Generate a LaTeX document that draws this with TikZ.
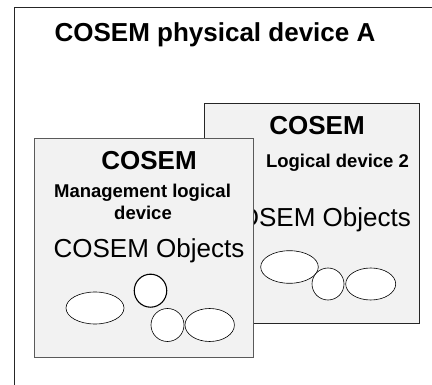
\documentclass[tikz,border=0pt]{standalone}
\usepackage{fontspec}
\setmainfont{Liberation Sans}
\usetikzlibrary{shapes.geometric}
\definecolor{boxfill}{HTML}{F2F2F2}
\definecolor{boxline}{HTML}{5A5A5A}
\tikzset{
  devbox/.style={draw=#1, fill=boxfill, line width=0.9pt},
  obj/.style={draw=black, fill=white, ellipse, inner sep=0pt, line width=0.6pt},
  bigbold/.style={anchor=base, inner sep=0pt, font=\fontsize{26}{28}\selectfont\bfseries},
  midbold/.style={anchor=base, inner sep=0pt, font=\fontsize{18.5}{20}\selectfont\bfseries},
  bigreg/.style={anchor=base, inner sep=0pt, font=\fontsize{26}{28}\selectfont},
}
\begin{document}
\begin{tikzpicture}[x=1pt,y=-1pt]
\useasboundingbox (0,0) rectangle (432,385);
\fill[white] (0,0) rectangle (432,385);
% outer physical device frame
\draw[draw=black!85, line width=0.9pt] (14,7) rectangle (450,400);
\node[bigbold] (title) at (215,42) {COSEM physical device A};
% logical device 2
\draw[devbox=black!85] (204,103) rectangle (419,323);
\node[bigbold] (c2) at (317,135) {COSEM};
\node[midbold] (ld2) at (337.5,168) {Logical device 2};
\node[bigreg, anchor=base east] (o2) at (411,227) {COSEM Objects};
\node[obj, minimum width=57.6pt, minimum height=32.6pt] (e21) at (289.5,267) {};
\node[obj, minimum width=32pt, minimum height=32pt] (e22) at (328,284) {};
\node[obj, minimum width=50pt, minimum height=32pt] (e23) at (370.7,284) {};
% management logical device
\draw[devbox=boxline] (34.7,138.3) rectangle (253,357.3);
\node[bigbold] (c1) at (149,170) {COSEM};
\node[midbold] (m1) at (142.5,198) {Management logical};
\node[midbold] (m2) at (143,220) {device};
\node[bigreg] (o1) at (149,258) {COSEM Objects};
\node[obj, minimum width=58pt, minimum height=32pt] (e11) at (95,308) {};
\node[obj, line width=1.1pt, minimum width=32.5pt, minimum height=33pt] (e12) at (150.5,290.7) {};
\node[obj, minimum width=33pt, minimum height=33pt] (e13) at (167.5,325) {};
\node[obj, minimum width=49.4pt, minimum height=33pt] (e14) at (209.7,325) {};
\end{tikzpicture}
\end{document}
